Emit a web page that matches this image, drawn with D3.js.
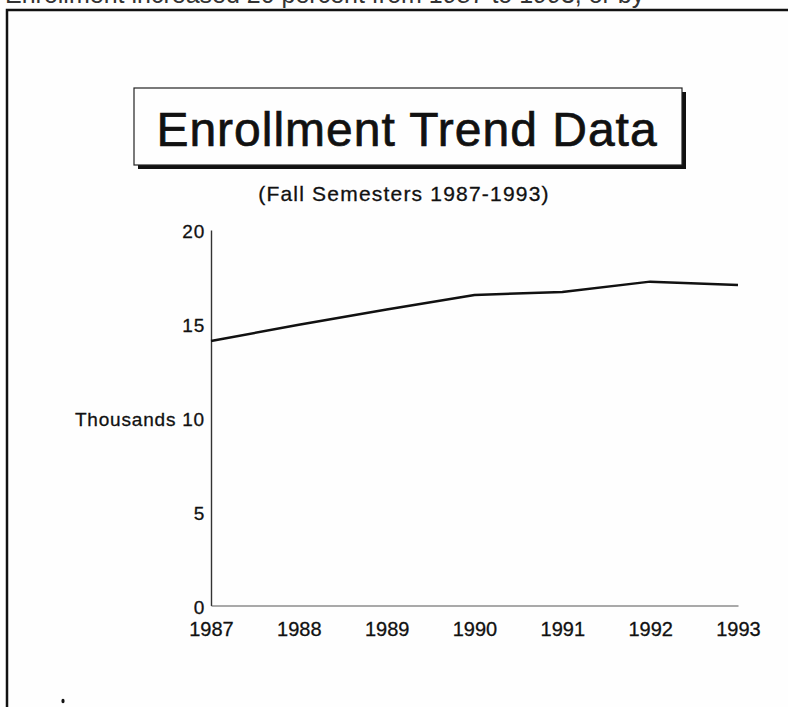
<!DOCTYPE html>
<html>
<head>
<meta charset="utf-8">
<script src="https://cdn.jsdelivr.net/npm/d3@7"></script>
<style>
  html, body { margin: 0; padding: 0; background: #fefefe; }
  svg { display: block; font-family: "Liberation Sans", Arial, Helvetica, sans-serif; }
</style>
</head>
<body>
<svg id="chart" width="788" height="707"></svg>
<script>
// ---- data ----
const years = [1987, 1988, 1989, 1990, 1991, 1992, 1993];
const enrollment = [14.09, 14.95, 15.76, 16.54, 16.70, 17.25, 17.07]; // thousands
const yTicks = [0, 5, 10, 15, 20];
const yTickLabels = ["0", "5", "Thousands 10", "15", "20"];
const titleText = "Enrollment Trend Data";
const subtitleText = "(Fall Semesters 1987-1993)";
const topCutText = "Enrollment increased 20 percent from 1987 to 1993, or by";

const svg = d3.select("#chart");

// cut-off line of text at the very top of the scan
svg.append("text")
  .attr("x", 5).attr("y", 3)
  .attr("font-size", 25).attr("fill", "#333")
  .text(topCutText);

// outer frame
svg.append("rect")
  .attr("x", 7).attr("y", 10).attr("width", 800).attr("height", 720)
  .attr("fill", "none").attr("stroke", "#111").attr("stroke-width", 2.5);

// title box with drop shadow
const box = {x: 134, y: 88, w: 548, h: 77};
svg.append("rect")
  .attr("x", box.x + 4).attr("y", box.y + 4).attr("width", box.w).attr("height", box.h)
  .attr("fill", "#111");
svg.append("rect")
  .attr("x", box.x).attr("y", box.y).attr("width", box.w).attr("height", box.h)
  .attr("fill", "#fefefe").attr("stroke", "#222").attr("stroke-width", 1.2);
svg.append("text")
  .attr("x", box.x + box.w / 2 - 1).attr("y", 146)
  .attr("text-anchor", "middle").attr("font-size", 48).attr("letter-spacing", 1)
  .attr("fill", "#111").attr("stroke", "#111").attr("stroke-width", 0.7)
  .text(titleText);

svg.append("text")
  .attr("x", 404).attr("y", 201)
  .attr("text-anchor", "middle").attr("font-size", 21).attr("letter-spacing", 1.2)
  .attr("fill", "#111").attr("stroke", "#111").attr("stroke-width", 0.3)
  .text(subtitleText);

// scales
const x = d3.scalePoint().domain(years).range([211, 738]);
const y = d3.scaleLinear().domain([0, 20]).range([605.5, 230]);

// y axis
const yAxis = d3.axisLeft(y).tickValues(yTicks).tickSize(0).tickPadding(6)
  .tickFormat((d, i) => yTickLabels[i]);
const gy = svg.append("g").attr("transform", "translate(211,0)").call(yAxis);
gy.select(".domain").attr("stroke", "#333").attr("stroke-width", 1.4);
gy.selectAll("text")
  .attr("font-size", 19).attr("letter-spacing", 0.8).attr("fill", "#111")
  .attr("stroke", "#111").attr("stroke-width", 0.3)
  .attr("font-family", "'Liberation Sans', Arial, sans-serif")
  .attr("dy", "0.42em");

// x axis
const xAxis = d3.axisBottom(x).tickSize(0).tickPadding(16);
const gx = svg.append("g").attr("transform", "translate(0,605.5)").call(xAxis);
gx.select(".domain").attr("stroke", "#555").attr("stroke-width", 1.1);
gx.selectAll("text")
  .attr("font-size", 20).attr("fill", "#111")
  .attr("stroke", "#111").attr("stroke-width", 0.3)
  .attr("font-family", "'Liberation Sans', Arial, sans-serif");

// line
const line = d3.line()
  .x((d, i) => x(years[i]))
  .y(d => y(d));
svg.append("path")
  .datum(enrollment)
  .attr("d", line)
  .attr("fill", "none").attr("stroke", "#111").attr("stroke-width", 2.5)
  .attr("stroke-linejoin", "round");

// small speck near the lower-left of the scan
svg.append("ellipse")
  .attr("cx", 63).attr("cy", 701).attr("rx", 1.6).attr("ry", 2.2).attr("fill", "#111");
</script>
</body>
</html>
